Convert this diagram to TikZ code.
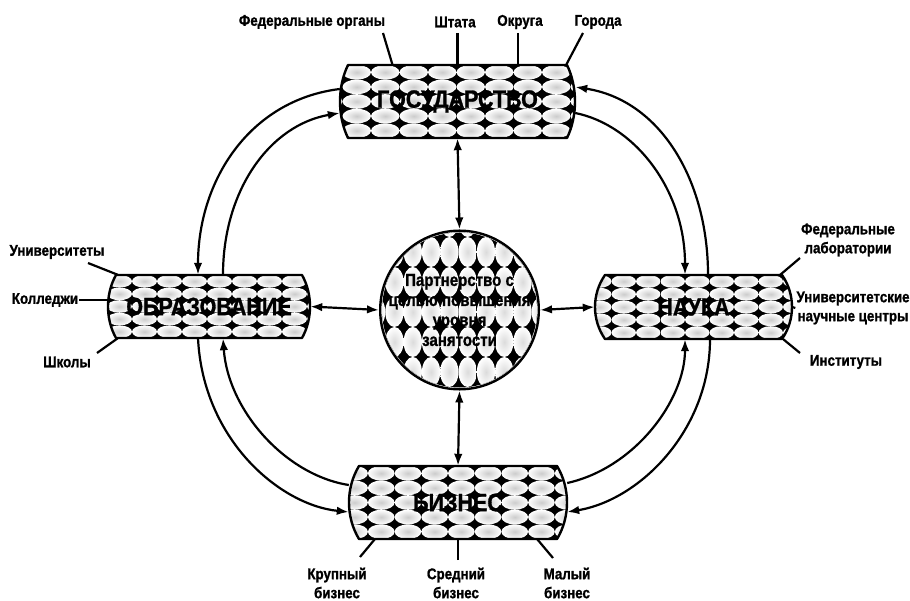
\documentclass[tikz,border=0pt]{standalone}
\usepackage{fontspec}
\setmainfont{Liberation Sans}[BoldFont={Liberation Sans Bold}, BoldFeatures={FakeBold=1.2}, FakeStretch=0.86]
\usetikzlibrary{arrows.meta}
\definecolor{ellg}{gray}{0.80}
\newcommand\patbox[8]{%
  \begin{scope}
    \clip (#1,#3) -- (#2,#3) .. controls ({#2+4*#5/3},{#3+0.3*(#4-#3)}) and ({#2+4*#5/3},{#4-0.3*(#4-#3)}) .. (#2,#4) -- (#1,#4) .. controls ({#1-4*#5/3},{#4-0.3*(#4-#3)}) and ({#1-4*#5/3},{#3+0.3*(#4-#3)}) .. (#1,#3) -- cycle;
    \fill[black] ({#1-#5-3},{#3-3}) rectangle ({#2+#5+3},{#4+3});
    \pgfmathsetmacro\rh{(#4-#3)/#8}
    \foreach \i in {-5,...,6}{
      \foreach \j in {1,...,#8}{
        \shade[inner color=ellg, outer color=white] ({#7+(\i-0.5)*#6},{#3+(\j-0.5)*\rh}) ellipse [x radius={#6/2}, y radius={\rh/2}];
      }}
  \end{scope}
  \draw[line width=2.4pt, line join=round] (#1,#3) -- (#2,#3) .. controls ({#2+4*#5/3},{#3+0.3*(#4-#3)}) and ({#2+4*#5/3},{#4-0.3*(#4-#3)}) .. (#2,#4) -- (#1,#4) .. controls ({#1-4*#5/3},{#4-0.3*(#4-#3)}) and ({#1-4*#5/3},{#3+0.3*(#4-#3)}) .. (#1,#3) -- cycle;
}
\begin{document}
\begin{tikzpicture}[x=1pt,y=-1pt,
  lbl/.style={font=\bfseries\fontsize{15.5}{19}\selectfont, align=center, inner sep=0pt},
  big/.style={font=\bfseries\fontsize{25}{28}\selectfont, inner sep=0pt, draw=none},
  lead/.style={line width=2.2pt},
  arr/.style={line width=2.2pt, -{Latex[length=12pt,width=8.5pt]}},
  darr/.style={line width=2.2pt, {Latex[length=12pt,width=8.5pt]}-{Latex[length=12pt,width=8.5pt]}}]
\useasboundingbox[fill=white] (0,0) rectangle (910,601);

% patterned boxes
\patbox{348}{567}{65}{138}{8}{28.5}{456.5}{5}
\patbox{116}{302}{275}{338}{8}{25}{207}{5}
\patbox{605}{782}{275}{339}{10}{24.5}{685}{5}
\patbox{359}{557}{466}{539}{10}{26.7}{448}{5}

% circle pattern
\begin{scope}
  \clip (459.5,310) circle [radius=77.5];
  \fill[black] (378,228) rectangle (542,392);
  \foreach \i in {-5,...,5}{
    \foreach \j in {-3,...,3}{
      \shade[inner color=ellg!70, outer color=white] ({458.5+(\i+0.5)*18.3},{282+\j*30}) ellipse [x radius=9.15, y radius=15];
    }}
\end{scope}

% nodes
\node[big, minimum width=235pt, minimum height=73pt] (gov) at (457.5,101.5) {ГОСУДАРСТВО};
\node[big, minimum width=202pt, minimum height=63pt] (edu) at (209,306.5) {ОБРАЗОВАНИЕ};
\node[big, minimum width=197pt, minimum height=64pt] (sci) at (693.5,307) {НАУКА};
\node[big, minimum width=218pt, minimum height=73pt] (biz) at (458,502.5) {БИЗНЕС};
\node[circle, draw, line width=2.4pt, minimum size=155pt, inner sep=0pt, align=center,
      font=\bfseries\fontsize{17.5}{20}\selectfont] (circ) at (459.5,310)
      {Партнерство с\\целью повышения\\уровня\\занятости};

% labels
\node[lbl] (lfed) at (312,22) {Федеральные органы};
\node[lbl] (lsht) at (455,22) {Штата};
\node[lbl] (lokr) at (520,22) {Округа};
\node[lbl] (lgor) at (598,22) {Города};
\node[lbl] (luniv) at (57,252) {Университеты};
\node[lbl] (lkol) at (45,300) {Колледжи};
\node[lbl] (lshk) at (67,362) {Школы};
\node[lbl] (lflab) at (848,240) {Федеральные\\лаборатории};
\node[lbl] (lunc) at (853,308) {Университетские\\научные центры};
\node[lbl] (linst) at (846,362) {Институты};
\node[lbl] (lkr) at (337,583) {Крупный\\бизнес};
\node[lbl] (lsr) at (456,583) {Средний\\бизнес};
\node[lbl] (lmal) at (567,583) {Малый\\бизнес};

% leader ends
\coordinate (c1) at (383,33);
\coordinate (c2) at (457.5,33);
\coordinate (c3) at (518,33);
\coordinate (c4) at (583,33);
\coordinate (c5) at (88,263);
\coordinate (c7) at (97,353);
\coordinate (c8) at (800,258);
\coordinate (c10) at (800,353);
\coordinate (c11) at (360,557);
\coordinate (c12) at (458,560);
\coordinate (c13) at (553,558);

\draw[lead] (c1) -- ([xshift=-65pt]gov.north);
\draw[lead] (c2) -- (gov.north);
\draw[lead] (c3) -- ([xshift=60.5pt]gov.north);
\draw[lead] (c4) -- ([xshift=-9pt]gov.north east);
\draw[lead] (c5) -- ([xshift=10pt]edu.north west);
\draw[lead] ([xshift=1pt]lkol.east) -- ([yshift=6.5pt]edu.west);
\draw[lead] (c7) -- ([xshift=10pt]edu.south west);
\draw[lead] (c8) -- ([xshift=-12pt]sci.north east);
\draw[lead] (sci.east) -- ([xshift=-1pt]lunc.west);
\draw[lead] (c10) -- ([xshift=-9pt]sci.south east);
\draw[lead] (c11) -- ([xshift=26pt]biz.south west);
\draw[lead] (c12) -- (biz.south);
\draw[lead] (c13) -- ([xshift=-30pt]biz.south east);

% straight double arrows
\draw[darr] (gov.south) -- (circ.north);
\draw[darr] (biz.north) -- (circ.south);
\draw[darr] (edu.east) -- (circ.west);
\draw[darr] (sci.west) -- (circ.east);

% curved arrows
\draw[arr] ([yshift=12.5pt]gov.west) .. controls (250,100) and (198,180) .. ([xshift=-11pt]edu.north);
\draw[arr] ([xshift=14pt]edu.north) .. controls (223,190) and (270,125) .. ([yshift=-11.5pt]gov.west);
\draw[arr] ([xshift=14.5pt]sci.north) .. controls (708,180) and (660,100) .. ([yshift=14.5pt]gov.east);
\draw[arr] ([yshift=-11.5pt]gov.east) .. controls (635,125) and (685,190) .. ([xshift=-8.5pt]sci.north);
\draw[arr] ([xshift=-11pt]edu.south) .. controls (203,440) and (280,505) .. ([yshift=-9.5pt]biz.west);
\draw[arr] ([yshift=17.5pt]biz.west) .. controls (285,475) and (228,410) .. ([xshift=14pt]edu.south);
\draw[arr] ([yshift=19.5pt]biz.east) .. controls (635,468) and (685,400) .. ([xshift=-8.5pt]sci.south);
\draw[arr] ([xshift=16.5pt]sci.south) .. controls (710,430) and (640,500) .. ([yshift=-9.5pt]biz.east);
\end{tikzpicture}
\end{document}
